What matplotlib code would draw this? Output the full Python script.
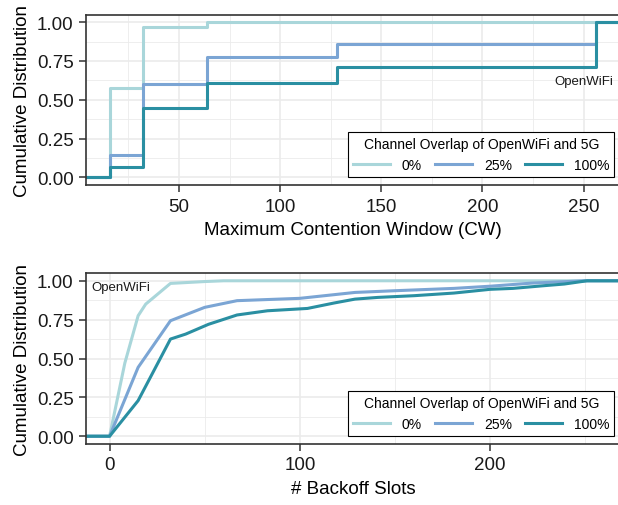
import matplotlib
matplotlib.use("Agg")
import matplotlib.pyplot as plt
from matplotlib.ticker import MultipleLocator

plt.rcParams['font.family'] = ['Liberation Sans', 'DejaVu Sans']

# --- data ---
overlaps = ["0%", "25%", "100%"]
colors = ["#a9d6da", "#7ba5d4", "#2a8fa2"]

# top: maximum contention window CDF (step function)
cw_values = [16, 32, 64, 128, 256]
cw_cdf_0 = [0.574, 0.972, 1.0, 1.0, 1.0]
cw_cdf_25 = [0.146, 0.600, 0.774, 0.860, 1.0]
cw_cdf_100 = [0.068, 0.449, 0.609, 0.710, 1.0]

# bottom: backoff slots CDF
slots_0 = [-20, 0, 8, 15, 19, 32, 50, 60, 300]
cdf_0 = [0.0, 0.0, 0.47, 0.775, 0.85, 0.983, 0.995, 1.0, 1.0]
slots_25 = [-20, 0, 15, 32, 50, 67, 100, 129, 150, 181, 200, 222, 250, 300]
cdf_25 = [0.0, 0.0, 0.443, 0.743, 0.829, 0.872, 0.887, 0.925, 0.936, 0.951, 0.965, 0.985, 1.0, 1.0]
slots_100 = [-20, 0, 15, 32, 40, 52, 67, 83, 104, 118, 129, 141, 160, 181, 200, 212, 228, 239, 251, 300]
cdf_100 = [0.0, 0.0, 0.229, 0.625, 0.657, 0.72, 0.78, 0.807, 0.822, 0.857, 0.882, 0.893, 0.904, 0.921,
           0.945, 0.951, 0.968, 0.979, 1.0, 1.0]

W, H = 618, 506
fig = plt.figure(figsize=(W / 100, H / 100), dpi=100)


def px_axes(left, top, right, bottom):
    return fig.add_axes([left / W, 1 - bottom / H, (right - left) / W, (bottom - top) / H])


def style(ax):
    ax.set_facecolor("white")
    for s in ax.spines.values():
        s.set_color("#333333")
        s.set_linewidth(1.2)
    ax.grid(True, which="major", color="#ebebeb", linewidth=1.2)
    ax.grid(True, which="minor", color="#ebebeb", linewidth=0.6)
    ax.set_axisbelow(True)
    ax.tick_params(which="major", length=5, width=1.1, color="#333333",
                   labelsize=13.5, labelcolor="#1a1a1a", pad=4)
    ax.tick_params(which="minor", length=0)
    ax.set_ylim(-0.05, 1.05)
    ax.yaxis.set_major_locator(MultipleLocator(0.25))
    ax.yaxis.set_minor_locator(MultipleLocator(0.125))
    ax.set_yticks([0, 0.25, 0.5, 0.75, 1.0])
    ax.set_yticklabels(["0.00", "0.25", "0.50", "0.75", "1.00"])
    ax.set_ylabel("Cumulative Distribution", fontsize=13.5, labelpad=4)


def add_legend(ax, right_px, bottom_px):
    leg = ax.legend(title="Channel Overlap of OpenWiFi and 5G", ncol=3, loc="lower right",
                    bbox_to_anchor=(right_px / W, 1 - bottom_px / H),
                    bbox_transform=fig.transFigure, borderaxespad=0,
                    fontsize=10, title_fontsize=10, handlelength=2.65,
                    handletextpad=0.85, columnspacing=0.95, borderpad=0.35,
                    fancybox=False, framealpha=1, edgecolor="black")
    leg.get_frame().set_linewidth(0.8)
    return leg


# --- top panel ---
ax1 = px_axes(86, 15.5, 620, 186)
style(ax1)
for lab, col, cdf in zip(overlaps, colors, [cw_cdf_0, cw_cdf_25, cw_cdf_100]):
    ax1.plot([0] + cw_values + [300], [0] + cdf + [cdf[-1]], drawstyle="steps-post",
             color=col, linewidth=2.2, label=lab)
ax1.set_xlim(4, 268)
ax1.xaxis.set_major_locator(MultipleLocator(50))
ax1.xaxis.set_minor_locator(MultipleLocator(25))
ax1.set_xlabel("Maximum Contention Window (CW)", fontsize=13.5, labelpad=5)
ax1.text(613 / W, 1 - 82 / H, "OpenWiFi", transform=fig.transFigure,
         ha="right", va="center", fontsize=9.5, color="#1a1a1a")
add_legend(ax1, 614, 178)

# --- bottom panel ---
ax2 = px_axes(86, 274, 620, 445)
style(ax2)
for lab, col, xs, ys in zip(overlaps, colors, [slots_0, slots_25, slots_100], [cdf_0, cdf_25, cdf_100]):
    ax2.plot(xs, ys, color=col, linewidth=2.2, label=lab)
ax2.set_xlim(-12.4, 268.3)
ax2.xaxis.set_major_locator(MultipleLocator(100))
ax2.xaxis.set_minor_locator(MultipleLocator(50))
ax2.set_xlabel("# Backoff Slots", fontsize=13.5, labelpad=5)
ax2.text(91 / W, 1 - 288 / H, "OpenWiFi", transform=fig.transFigure,
         ha="left", va="center", fontsize=9.5, color="#1a1a1a")
add_legend(ax2, 614, 437)

fig.savefig("out.png", dpi=100)
